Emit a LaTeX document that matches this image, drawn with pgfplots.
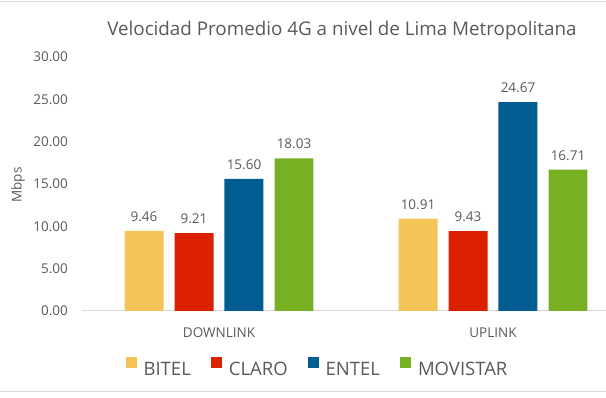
\documentclass[border=0pt]{standalone}
\usepackage{pgfplots}
\pgfplotsset{compat=1.18}
\usepackage{fontspec}
\setmainfont{Open Sans}
\definecolor{cBitel}{HTML}{F3C558}
\definecolor{cClaro}{HTML}{DB2100}
\definecolor{cEntel}{HTML}{005C91}
\definecolor{cMovi}{HTML}{77B022}
\definecolor{txt}{HTML}{595959}
\definecolor{axl}{HTML}{D9D9D9}
\begin{document}
\begin{tikzpicture}[x=1pt,y=1pt]
\useasboundingbox (0,0) rectangle (606,398);
\draw[axl,line width=1.2pt] (0,396.3)--(606,396.3);
\draw[axl,line width=1.2pt] (0,6.3)--(606,6.3);
\begin{axis}[
  at={(82pt,87pt)}, anchor=south west,
  scale only axis, width=524pt, height=254pt,
  xmin=-0.5, xmax=1.4124, ymin=0, ymax=30,
  axis x line*=bottom, axis y line*=left,
  x axis line style={draw=axl, line width=1pt, -},
  y axis line style={draw=none},
  ytick={0,5,...,30}, xtick={0,1}, xticklabels={DOWNLINK,UPLINK},
  major tick length=0pt, tick style={draw=none},
  /pgf/number format/assume math mode=true,
  yticklabel={\pgfmathprintnumber[fixed,fixed zerofill,precision=2]{\tick}},
  ticklabel style={font=\fontsize{13.5}{16}\selectfont, text=txt},
  yticklabel style={anchor=east, inner sep=0pt, xshift=-14pt},
  xticklabel style={anchor=north, inner sep=0pt, yshift=-17pt},
  ylabel={Mbps},
  ylabel style={font=\fontsize{13.5}{16}\selectfont, text=txt, at={(axis description cs:-0.122,0.496)}, anchor=center},
  title={Velocidad Promedio 4G a nivel de Lima Metropolitana},
  title style={font=\fontsize{18.8}{22}\selectfont, text=txt, at={(axis description cs:0.496,1.079)}, anchor=center},
  ybar, bar width=0.1423,
  nodes near coords={\pgfmathprintnumber[fixed,fixed zerofill,precision=2,assume math mode=true]{\pgfplotspointmeta}},
  nodes near coords style={font=\fontsize{13.5}{16}\selectfont, text=txt, anchor=south, yshift=5.7pt},
  legend columns=4,
  legend style={draw=none, fill=none, at={(axis description cs:0.4475,-0.2205)}, anchor=center,
    font=\fontsize{18.5}{21}\selectfont, text=txt, nodes={inner sep=0pt},
    /tikz/every odd column/.append style={column sep=7pt},
    /tikz/every even column/.append style={column sep=20pt}},
  legend image code/.code={\fill[#1] (0pt,1pt) rectangle (11pt,12pt);},
]
\addplot[fill=cBitel, draw=none, bar shift=-0.2737] coordinates {(0,9.46) (1,10.91)};
\addplot[fill=cClaro, draw=none, bar shift=-0.0912] coordinates {(0,9.21) (1,9.43)};
\addplot[fill=cEntel, draw=none, bar shift=0.0912] coordinates {(0,15.60) (1,24.67)};
\addplot[fill=cMovi, draw=none, bar shift=0.2737] coordinates {(0,18.03) (1,16.71)};
\legend{BITEL,CLARO,ENTEL,MOVISTAR}
\end{axis}
\end{tikzpicture}
\end{document}
